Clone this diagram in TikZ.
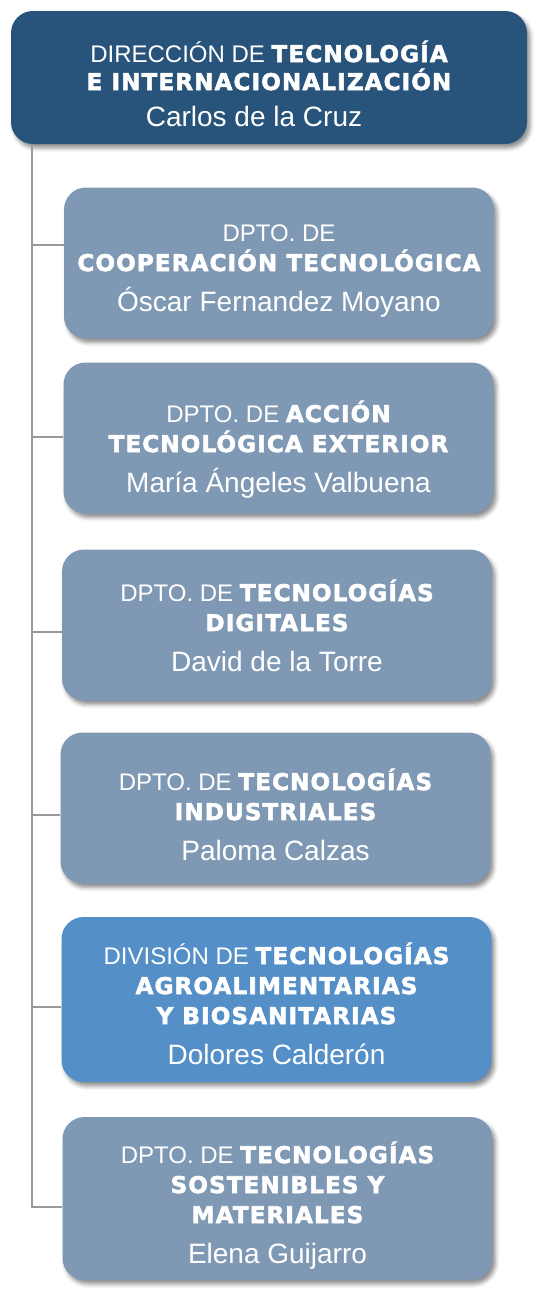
\documentclass[tikz,border=0pt]{standalone}
\usepackage{fontspec}
\setmainfont{Liberation Sans}
\newfontfamily\heavyfont{DejaVu Sans}[LetterSpace=5, FakeBold=2.5]
\usetikzlibrary{shadows.blur}
\definecolor{topblue}{RGB}{40,83,122}
\definecolor{deptgray}{RGB}{127,153,180}
\definecolor{divblue}{RGB}{84,143,200}
\definecolor{linkgray}{RGB}{153,153,153}
\newcommand{\hv}[1]{{\heavyfont\bfseries\fontsize{23}{30}\selectfont #1}}
\newcommand{\who}[1]{{\fontsize{28}{30}\selectfont #1}}
\begin{document}
\begin{tikzpicture}[x=1pt, y=-1pt,
    box/.style = {rounded corners=22pt, inner sep=0pt, text=white, align=center,
        font=\fontsize{24}{30}\selectfont, text depth=0pt,
        blur shadow={shadow xshift=3pt, shadow yshift=-4pt, shadow blur radius=4pt, shadow opacity=45}},
    head/.style = {box, fill=topblue, minimum width=516pt, minimum height=133pt,
        font=\fontsize{24}{28}\selectfont},
    dept/.style = {box, fill=deptgray, minimum width=430pt, minimum height=151pt},
    link/.style = {draw=linkgray, line width=2.2pt}]
    \useasboundingbox (0,0) rectangle (546,1304);
    \node[head, text height=97pt] (top) at (269,77.5) {DIRECCIÓN DE \hv{TECNOLOGÍA}\\ \hv{E INTERNACIONALIZACIÓN}\\[8pt]\who{Carlos de la Cruz}\hspace*{30pt}};
    \node[dept, text height=96pt] (b1) at (279,263) {DPTO. DE\\ \hv{COOPERACIÓN TECNOLÓGICA}\\[10pt]\who{Óscar Fernandez Moyano}};
    \node[dept, text height=108pt] (b2) at (278.5,438) {DPTO. DE \hv{ACCIÓN}\\ \hv{TECNOLÓGICA EXTERIOR}\\[10pt]\who{María Ángeles Valbuena}};
    \node[dept, text height=92pt] (b3) at (277,625) {DPTO. DE \hv{TECNOLOGÍAS}\\ \hv{DIGITALES}\\[10pt]\who{David de la Torre}};
    \node[dept, text height=104pt] (b4) at (275.5,808) {DPTO. DE \hv{TECNOLOGÍAS}\\ \hv{INDUSTRIALES}\\[10pt]\who{Paloma Calzas}};
    \node[dept, fill=divblue, minimum height=165pt, text height=129pt] (b5) at (276.5,999.5) {DIVISIÓN DE \hv{TECNOLOGÍAS}\\ \hv{AGROALIMENTARIAS}\\ \hv{Y BIOSANITARIAS}\\[10pt]\who{Dolores Calderón}};
    \node[dept, minimum height=163pt, text height=129pt] (b6) at (277.5,1198.5) {DPTO. DE \hv{TECNOLOGÍAS}\\ \hv{SOSTENIBLES Y}\\ \hv{MATERIALES}\\[10pt]\who{Elena Guijarro}};
    \coordinate (s1) at (32,245);
    \coordinate (s2) at (32,437);
    \coordinate (s3) at (32,632);
    \coordinate (s4) at (32,815);
    \coordinate (s5) at (32,1007);
    \coordinate (s6) at (32,1207);
    \draw[link] (top.south -| s6) -- (s6) -- (s6 -| b6.west);
    \draw[link] (s1) -- (s1 -| b1.west);
    \draw[link] (s2) -- (s2 -| b2.west);
    \draw[link] (s3) -- (s3 -| b3.west);
    \draw[link] (s4) -- (s4 -| b4.west);
    \draw[link] (s5) -- (s5 -| b5.west);
\end{tikzpicture}
\end{document}
